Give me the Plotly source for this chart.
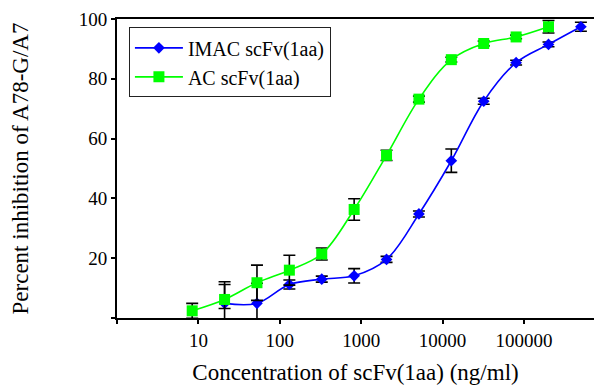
import plotly.graph_objects as go

# Concentrations (ng/ml)
conc_ac = [8.39, 20.97, 52.43, 131.07, 327.68, 819.2, 2048, 5120, 12800, 32000, 80000, 200000]
conc_imac = [20.97, 52.43, 131.07, 327.68, 819.2, 2048, 5120, 12800, 32000, 80000, 200000, 500000]

# AC scFv(1aa)
ac_vals = [2.4, 6.2, 11.8, 16.0, 21.4, 36.3, 54.4, 73.2, 86.4, 91.8, 94.0, 97.4]
ac_err_plus = [2.5, 5.9, 5.9, 5.0, 2.0, 3.6, 1.7, 1.0, 0.8, 0.8, 0.6, 2.1]
ac_err_minus = [2.5, 3.0, 5.9, 5.0, 2.0, 3.6, 1.7, 1.0, 0.8, 0.8, 0.6, 2.1]

# IMAC scFv(1aa)
imac_vals = [4.9, 4.9, 11.2, 13.0, 14.1, 19.6, 34.8, 52.6, 72.5, 85.4, 91.5, 97.4]
imac_err = [6.3, 6.7, 1.5, 1.0, 2.4, 1.0, 1.0, 3.9, 1.0, 0.8, 0.8, 1.5]

x_tickvals = [1, 10, 100, 1000, 10000, 100000]
x_ticktext = ["", "10", "100", "1000", "10000", "100000"]
y_tickvals = [0, 20, 40, 60, 80, 100]
y_ticktext = ["", "20", "40", "60", "80", "100"]

FONT = "Liberation Serif"

fig = go.Figure()
fig.add_trace(go.Scatter(
    x=conc_imac, y=imac_vals, name="IMAC scFv(1aa)",
    mode="lines+markers",
    line=dict(color="#0000FF", width=1.6, shape="spline", smoothing=1.0),
    marker=dict(symbol="diamond", size=9, color="#0000FF"),
    error_y=dict(type="data", array=imac_err, color="black", thickness=1.6, width=6),
))
fig.add_trace(go.Scatter(
    x=conc_ac, y=ac_vals, name="AC scFv(1aa)",
    mode="lines+markers",
    line=dict(color="#00FF00", width=1.6, shape="spline", smoothing=1.0),
    marker=dict(symbol="square", size=11, color="#00FF00"),
    error_y=dict(type="data", array=ac_err_plus, arrayminus=ac_err_minus,
                 color="black", thickness=1.6, width=6),
))

fig.update_layout(
    width=594, height=387,
    margin=dict(l=117, r=0, t=19, b=69),
    paper_bgcolor="white", plot_bgcolor="white",
    font=dict(family=FONT, size=19, color="black"),
    showlegend=True,
    legend=dict(
        x=0.025, y=0.972, xanchor="left", yanchor="top",
        bgcolor="white", bordercolor="#222", borderwidth=1,
        font=dict(family=FONT, size=20, color="black"),
        traceorder="normal", itemwidth=48,
    ),
    xaxis=dict(
        type="log", range=[0, 5.86],
        tickvals=x_tickvals, ticktext=x_ticktext,
        ticks="outside", ticklen=4, tickwidth=1.5, tickcolor="black",
        showline=True, linecolor="black", linewidth=2, mirror=True,
        showgrid=False, zeroline=False,
        tickfont=dict(family=FONT, size=19),
        title=dict(text="Concentration of scFv(1aa) (ng/ml)",
                   font=dict(family=FONT, size=23), standoff=14),
    ),
    yaxis=dict(
        range=[0, 100],
        tickvals=y_tickvals, ticktext=y_ticktext,
        ticks="outside", ticklen=4, tickwidth=1.5, tickcolor="black",
        showline=True, linecolor="black", linewidth=2,
        showgrid=False, zeroline=False,
        tickfont=dict(family=FONT, size=19),
        title=dict(text="Percent inhibition of A78-G/A7",
                   font=dict(family=FONT, size=23), standoff=44),
    ),
)

fig.write_html("out.html")
